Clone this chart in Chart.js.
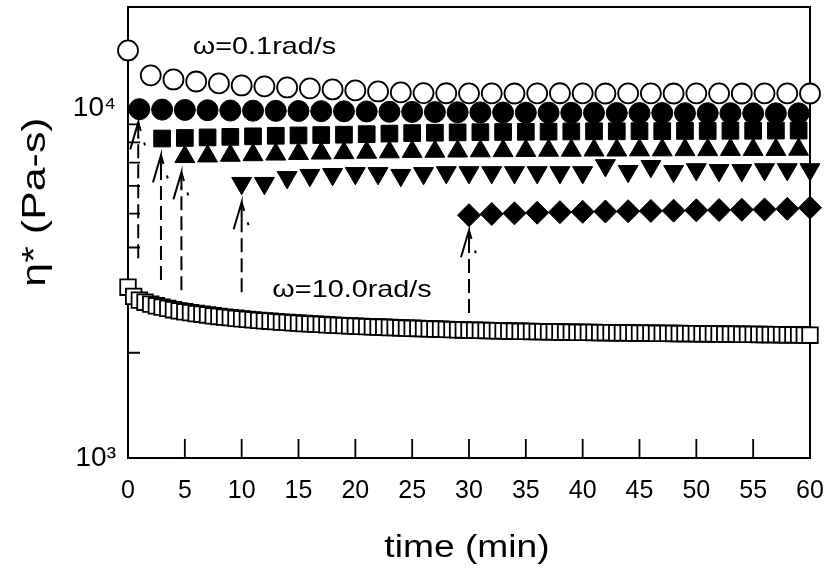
<!DOCTYPE html>
<html>
<head>
<meta charset="utf-8">
<script src="https://cdn.jsdelivr.net/npm/chart.js@4.4.1/dist/chart.umd.min.js"></script>
<style>
  html, body { margin: 0; padding: 0; background: #fff; }
  #wrap { width: 827px; height: 570px; }
</style>
</head>
<body>
<div id="wrap"><canvas id="chart" width="827" height="570"></canvas></div>
<script>
// omega = 0.1 rad/s, open circles
const lowTime = [0,2,4,6,8,10,12,14,16,18,20,22,24,26,28,30,32,34,36,38,40,42,44,46,48,50,52,54,56,58,60];
const lowEta = [14650,12430,12100,11940,11790,11630,11560,11480,11410,11330,11260,11180,11110,11060,11050,11040,11040,11030,11040,11050,11040,11030,11040,11040,11030,11040,11040,11030,11040,11040,11030];

// runs switched to the slow frequency after 1, 3, 5, 10 and 30 min
const run1Time = [1,3,5,7,9,11,13,15,17,19,21,23,25,27,29,31,33,35,37,39,41,43,45,47,49,51,53,55,57,59];
const run1Eta = [9950,9920,9900,9880,9860,9850,9840,9830,9820,9810,9800,9780,9770,9760,9750,9740,9730,9720,9720,9710,9710,9700,9700,9700,9690,9690,9690,9680,9680,9680];

const run3Time = [3,5,7,9,11,13,15,17,19,21,23,25,27,29,31,33,35,37,39,41,43,45,47,49,51,53,55,57,59];
const run3Eta = [8200,8230,8260,8290,8320,8350,8370,8390,8410,8440,8470,8500,8520,8540,8550,8560,8570,8580,8590,8600,8600,8610,8610,8620,8620,8630,8630,8640,8640];

const run5Time = [5,7,9,11,13,15,17,19,21,23,25,27,29,31,33,35,37,39,41,43,45,47,49,51,53,55,57,59];
const run5Eta = [7270,7300,7330,7360,7390,7420,7440,7460,7480,7500,7520,7530,7540,7550,7560,7570,7580,7580,7590,7590,7600,7600,7610,7610,7620,7620,7620,7630];

const run10Time = [10,12,14,16,18,20,22,24,26,28,30,32,34,36,38,40,42,44,46,48,50,52,54,56,58,60];
const run10Eta = [6110,6110,6350,6440,6480,6520,6520,6440,6520,6560,6560,6560,6560,6560,6560,6560,6870,6610,6830,6610,6690,6650,6650,6690,6690,6690];

const run30Time = [30,32,34,36,38,40,42,44,46,48,50,52,54,56,58,60];
const run30Eta = [4950,4990,5010,5030,5050,5060,5070,5080,5090,5100,5110,5120,5130,5140,5160,5200];

// omega = 10.0 rad/s, open squares
const highTime = [0,0.5,1,1.5,2,2.5,3,3.5,4,4.5,5,5.5,6,6.5,7,7.5,8,8.5,9,9.5,
  10,10.5,11,11.5,12,12.5,13,13.5,14,14.5,15,15.5,16,16.5,17,17.5,18,18.5,19,19.5,
  20,20.5,21,21.5,22,22.5,23,23.5,24,24.5,25,25.5,26,26.5,27,27.5,28,28.5,29,29.5,
  30,30.5,31,31.5,32,32.5,33,33.5,34,34.5,35,35.5,36,36.5,37,37.5,38,38.5,39,39.5,
  40,40.5,41,41.5,42,42.5,43,43.5,44,44.5,45,45.5,46,46.5,47,47.5,48,48.5,49,49.5,
  50,50.5,51,51.5,52,52.5,53,53.5,54,54.5,55,55.5,56,56.5,57,57.5,58,58.5,59,59.5,60];
const highEta = [3080,2900,2830,2790,2755,2725,2700,2680,2655,2635,2620,2605,2590,2578,2565,2552,2540,2530,2520,2510,
  2500,2492,2484,2476,2468,2462,2455,2448,2442,2436,2430,2425,2420,2415,2410,2405,2400,2396,2392,2388,
  2384,2380,2376,2372,2369,2366,2362,2359,2356,2353,2350,2347,2344,2341,2338,2335,2332,2330,2327,2324,
  2322,2320,2318,2316,2314,2312,2310,2308,2306,2304,2303,2301,2299,2298,2296,2295,2293,2292,2290,2289,
  2288,2287,2286,2284,2283,2282,2281,2280,2279,2278,2277,2276,2275,2274,2273,2272,2271,2270,2269,2268,
  2267,2266,2265,2264,2263,2262,2261,2260,2259,2258,2257,2256,2255,2254,2253,2252,2251,2250,2249,2248,2245];

// frequency-switch arrows: time, start and end viscosity
const arrowTime = [0.9, 2.9, 4.7, 10, 30];
const arrowFrom = [3730, 3230, 3020, 2980, 2600];
const arrowTo = [9120, 7340, 6560, 5390, 4480];

const xTicks = [0,5,10,15,20,25,30,35,40,45,50,55,60];
const yTicks = [1000,2000,3000,4000,5000,6000,7000,8000,9000,10000];

const FONT = '"Liberation Sans", Arial, sans-serif';

function pts(xs, ys) {
  return xs.map((x, i) => ({ x: x, y: ys[i] }));
}

function series(xs, ys, style, radius, filled, rotation) {
  return {
    data: pts(xs, ys),
    showLine: false,
    pointStyle: style,
    pointRadius: radius,
    pointRotation: rotation || 0,
    pointBackgroundColor: filled ? '#000' : '#fff',
    pointBorderColor: '#000',
    pointBorderWidth: filled ? 1 : 1.8,
    clip: false,
  };
}

// stretched text, as in the printed figure
function wideText(ctx, text, x, y, size, angle, align, stretch) {
  ctx.save();
  ctx.translate(x, y);
  if (angle) ctx.rotate(angle);
  ctx.scale(stretch || 1.2, 1);
  ctx.font = size + 'px ' + FONT;
  ctx.fillStyle = '#000';
  ctx.textAlign = align || 'left';
  ctx.textBaseline = 'middle';
  ctx.fillText(text, 0, 0);
  ctx.restore();
}

function noPad(s) {
  s.paddingTop = 0;
  s.paddingBottom = 0;
  s.paddingLeft = 0;
  s.paddingRight = 0;
}

const framePlugin = {
  id: 'frame',
  beforeDatasetsDraw(chart) {
    const { ctx, chartArea: a, scales } = chart;
    const xs = scales.x, ys = scales.y;
    ctx.save();
    ctx.strokeStyle = '#000';
    ctx.lineWidth = 2;
    ctx.strokeRect(a.left, a.top, a.right - a.left, a.bottom - a.top);

    // inward ticks
    ctx.lineWidth = 1.8;
    ctx.beginPath();
    xTicks.forEach(v => {
      if (v === xs.min || v === xs.max) return;
      const px = xs.getPixelForValue(v);
      ctx.moveTo(px, a.bottom);
      ctx.lineTo(px, a.bottom - 19);
    });
    yTicks.forEach(v => {
      if (v === ys.min) return;
      const py = ys.getPixelForValue(v);
      const len = (v === 10000) ? 19 : 12;
      ctx.moveTo(a.left, py);
      ctx.lineTo(a.left + len, py);
    });
    ctx.stroke();

    // switch arrows
    ctx.lineWidth = 2;
    arrowTime.forEach((t, i) => {
      const px = xs.getPixelForValue(t);
      const y0 = ys.getPixelForValue(arrowFrom[i]);
      const y1 = ys.getPixelForValue(arrowTo[i]);
      ctx.setLineDash([14, 6]);
      ctx.beginPath();
      ctx.moveTo(px, y0);
      ctx.lineTo(px, y1 + 14);
      ctx.stroke();
      ctx.setLineDash([]);
      ctx.beginPath();
      ctx.moveTo(px, y1 + 16);
      ctx.lineTo(px, y1);
      ctx.lineTo(px - 8, y1 + 27);
      ctx.stroke();
      ctx.setLineDash([9, 12, 3, 40]);
      ctx.beginPath();
      ctx.moveTo(px, y1);
      ctx.lineTo(px + 8, y1 + 27);
      ctx.stroke();
      ctx.setLineDash([]);
    });
    ctx.restore();
  },
  afterDraw(chart) {
    const { ctx, chartArea: a, scales } = chart;
    const xs = scales.x, ys = scales.y;
    wideText(ctx, '\u03C9=0.1rad/s', xs.getPixelForValue(5.7), ys.getPixelForValue(14930), 24);
    wideText(ctx, '\u03C9=10.0rad/s', xs.getPixelForValue(12.7), ys.getPixelForValue(3020), 24);
    wideText(ctx, 'time (min)', (a.left + a.right) / 2 - 2, 548, 31, 0, 'center');
    wideText(ctx, '\u03B7* (Pa-s)', 36, 202, 33, -Math.PI / 2, 'center', 1.3);
  }
};

new Chart(document.getElementById('chart'), {
  type: 'scatter',
  data: {
    datasets: [
      series(lowTime, lowEta, 'circle', 10, false),
      series(run1Time, run1Eta, 'circle', 10.5, true),
      series(run3Time, run3Eta, 'rect', 11.8, true),
      series(run5Time, run5Eta, 'triangle', 11.5, true),
      series(run10Time, run10Eta, 'triangle', 11.5, true, 180),
      series(run30Time, run30Eta, 'rectRot', 11.5, true),
      series(highTime, highEta, 'rect', 11, false),
    ]
  },
  options: {
    responsive: false,
    animation: false,
    layout: { autoPadding: false, padding: { top: 7, right: 17, left: 0, bottom: 0 } },
    plugins: {
      legend: { display: false },
      tooltip: { enabled: false },
    },
    scales: {
      x: {
        type: 'linear',
        min: 0,
        max: 60,
        grid: { display: false },
        border: { display: false },
        afterBuildTicks: s => { s.ticks = xTicks.map(v => ({ value: v })); },
        afterFit: s => { s.height = 112; noPad(s); },
        ticks: {
          autoSkip: false,
          maxRotation: 0,
          padding: 10,
          color: '#000',
          font: { family: FONT, size: 25 },
        },
      },
      y: {
        type: 'logarithmic',
        min: 1000,
        max: 19500,
        grid: { display: false },
        border: { display: false },
        afterBuildTicks: s => { s.ticks = yTicks.map(v => ({ value: v })); },
        afterFit: s => { s.width = 128; noPad(s); },
        ticks: {
          autoSkip: false,
          padding: 4,
          color: '#000',
          font: { family: FONT, size: 28, lineHeight: 0.3 },
          callback: v => v === 1000 ? '10\u00B3' : (v === 10000 ? '10\u2074' : ''),
        },
      },
    },
  },
  plugins: [framePlugin],
});
</script>
</body>
</html>
